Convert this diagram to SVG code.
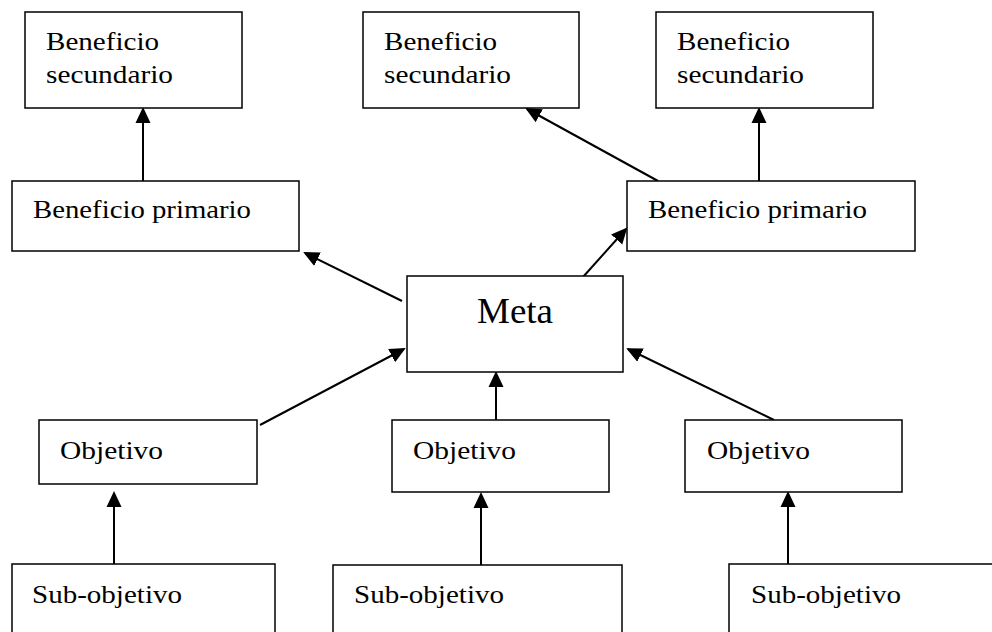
<svg xmlns="http://www.w3.org/2000/svg" width="992" height="632" viewBox="0 0 992 632">
<style>
  .box { fill: #fff; stroke: #000; stroke-width: 1.5; }
  .lbl { font-family: "Liberation Serif", "Times New Roman", serif; font-size: 26px; fill: #000; }
  .big { font-family: "Liberation Serif", "Times New Roman", serif; font-size: 35px; fill: #000; }
  .conn { stroke: #000; stroke-width: 2; fill: none; marker-end: url(#arr); }
</style>
<defs>
  <marker id="arr" markerUnits="userSpaceOnUse" markerWidth="16" markerHeight="16" viewBox="0 0 16 16" refX="14" refY="8" orient="auto">
    <path d="M0,0.5 L16,8 L0,15.5 z" fill="#000"/>
  </marker>
</defs>
<rect width="992" height="632" fill="#fff"/>
<g id="connectors">
  <line class="conn" x1="143" y1="181" x2="143" y2="109"/>
  <line class="conn" x1="658" y1="181" x2="527" y2="109"/>
  <line class="conn" x1="759" y1="181" x2="759" y2="109"/>
  <line class="conn" x1="402" y1="301" x2="305" y2="253"/>
  <line class="conn" x1="583" y1="277" x2="626" y2="229"/>
  <line class="conn" x1="260" y1="425" x2="404" y2="349"/>
  <line class="conn" x1="496" y1="420" x2="496" y2="373"/>
  <line class="conn" x1="774" y1="420" x2="628" y2="349"/>
  <line class="conn" x1="114" y1="564" x2="114" y2="493"/>
  <line class="conn" x1="481" y1="565" x2="481" y2="494"/>
  <line class="conn" x1="788" y1="564" x2="788" y2="493"/>
</g>
<g id="bs1">
  <rect class="box" x="25" y="12" width="217" height="96"/>
  <text class="lbl" x="46" y="50" textLength="113" lengthAdjust="spacingAndGlyphs">Beneficio</text>
  <text class="lbl" x="46" y="83" textLength="127" lengthAdjust="spacingAndGlyphs">secundario</text>
</g>
<g id="bs2">
  <rect class="box" x="363" y="12" width="216" height="96"/>
  <text class="lbl" x="384" y="50" textLength="113" lengthAdjust="spacingAndGlyphs">Beneficio</text>
  <text class="lbl" x="384" y="83" textLength="127" lengthAdjust="spacingAndGlyphs">secundario</text>
</g>
<g id="bs3">
  <rect class="box" x="656" y="12" width="217" height="96"/>
  <text class="lbl" x="677" y="50" textLength="113" lengthAdjust="spacingAndGlyphs">Beneficio</text>
  <text class="lbl" x="677" y="83" textLength="127" lengthAdjust="spacingAndGlyphs">secundario</text>
</g>
<g id="bp1">
  <rect class="box" x="12" y="181" width="287" height="70"/>
  <text class="lbl" x="33" y="218" textLength="218" lengthAdjust="spacingAndGlyphs">Beneficio primario</text>
</g>
<g id="bp2">
  <rect class="box" x="627" y="181" width="288" height="70"/>
  <text class="lbl" x="648" y="218" textLength="219" lengthAdjust="spacingAndGlyphs">Beneficio primario</text>
</g>
<g id="meta">
  <rect class="box" x="407" y="276" width="216" height="96"/>
  <text class="big" x="477" y="323" textLength="76" lengthAdjust="spacingAndGlyphs">Meta</text>
</g>
<g id="obj1">
  <rect class="box" x="39" y="420" width="218" height="64"/>
  <text class="lbl" x="60" y="459" textLength="103" lengthAdjust="spacingAndGlyphs">Objetivo</text>
</g>
<g id="obj2">
  <rect class="box" x="392" y="420" width="217" height="72"/>
  <text class="lbl" x="413" y="459" textLength="103" lengthAdjust="spacingAndGlyphs">Objetivo</text>
</g>
<g id="obj3">
  <rect class="box" x="685" y="420" width="217" height="72"/>
  <text class="lbl" x="707" y="459" textLength="103" lengthAdjust="spacingAndGlyphs">Objetivo</text>
</g>
<g id="sub1">
  <rect class="box" x="12" y="564" width="263" height="80"/>
  <text class="lbl" x="32" y="603" textLength="150" lengthAdjust="spacingAndGlyphs">Sub-objetivo</text>
</g>
<g id="sub2">
  <rect class="box" x="333" y="565" width="289" height="80"/>
  <text class="lbl" x="354" y="603" textLength="150" lengthAdjust="spacingAndGlyphs">Sub-objetivo</text>
</g>
<g id="sub3">
  <rect class="box" x="729" y="564" width="280" height="80"/>
  <text class="lbl" x="751" y="603" textLength="150" lengthAdjust="spacingAndGlyphs">Sub-objetivo</text>
</g>
</svg>
